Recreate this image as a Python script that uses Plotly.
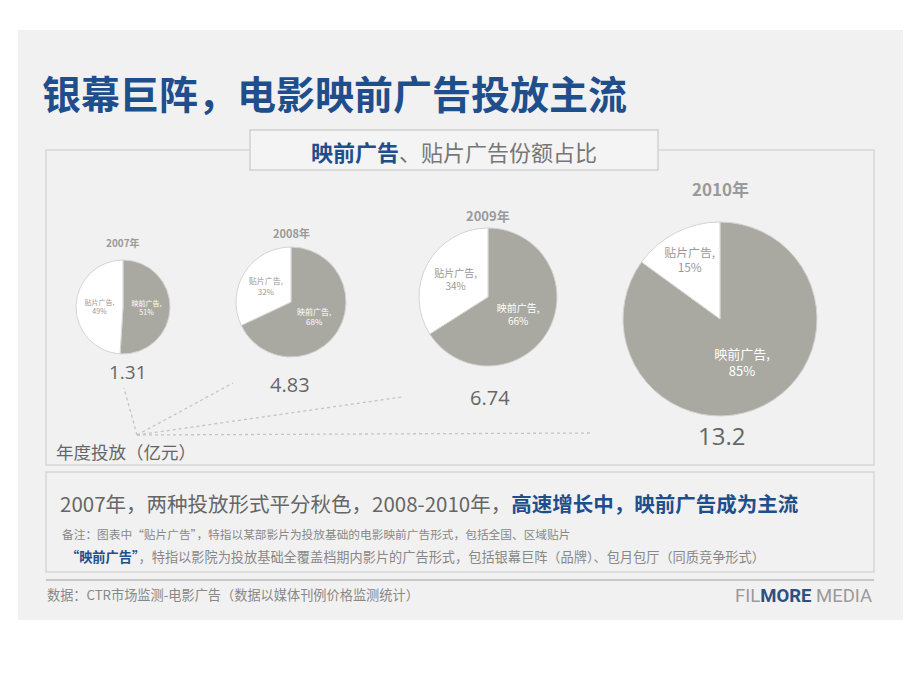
import plotly.graph_objects as go

W, H = 920, 690
OFF = 8  # page body margin offset

years = ["2007年", "2008年", "2009年", "2010年"]
labels = ["映前广告", "贴片广告"]
yingqian_pct = [51, 68, 66, 85]
tiepian_pct = [49, 32, 34, 15]
spend = ["1.31", "4.83", "6.74", "13.2"]

FONT = "Noto Sans CJK SC, Noto Sans, sans-serif"
BLUE = "#1f4e8c"
GRAY_SLICE = "#a9a9a1"
TXT = "#666666"


def X(px):
    return (px - OFF) / W


def Y(py):
    return 1 - (py - OFF) / H


# layout (pixel) of the pies
pie_cx = [123, 291, 488, 720]
pie_cy = [307, 302, 297, 319]
pie_r = [47, 55, 69, 97]
pie_txt = [7, 8, 10, 13]
title_y = [242, 233, 215, 188]
title_sz = [10, 11, 13, 17]
val_xy = [(128, 372), (290, 384), (490, 397), (721, 435)]
val_sz = [19, 20, 20, 24]
line_end = [(124, 388), (233, 383), (402, 397), (590, 433)]
vertex = (137, 435)

fig = go.Figure()

for i in range(4):
    cx, cy, r = pie_cx[i], pie_cy[i], pie_r[i]
    fig.add_trace(go.Pie(
        labels=labels,
        values=[yingqian_pct[i], tiepian_pct[i]],
        sort=False,
        direction="clockwise",
        rotation=0,
        domain=dict(x=[X(cx - r), X(cx + r)], y=[Y(cy + r), Y(cy - r)]),
        marker=dict(colors=[GRAY_SLICE, "#ffffff"], line=dict(color="#d4d4d4", width=1)),
        texttemplate="%{label},<br>%{value}%",
        textposition="inside",
        insidetextorientation="horizontal",
        insidetextfont=dict(family=FONT, size=pie_txt[i], color=["#ffffff", "#999999"]),
        hoverinfo="label+percent",
        showlegend=False,
    ))

shapes = []
# slide background
shapes.append(dict(type="rect", xref="paper", yref="paper", x0=X(18), x1=X(903), y0=Y(620), y1=Y(30),
                   fillcolor="#f1f1f1", line=dict(width=0), layer="below"))
# chart box
shapes.append(dict(type="rect", xref="paper", yref="paper", x0=X(46), x1=X(874), y0=Y(465), y1=Y(150),
                   fillcolor="rgba(0,0,0,0)", line=dict(color="#d6d6d6", width=1.5), layer="below"))
# header box
shapes.append(dict(type="rect", xref="paper", yref="paper", x0=X(250), x1=X(658), y0=Y(170), y1=Y(130),
                   fillcolor="#f4f4f4", line=dict(color="#d0d0d0", width=1.5), layer="below"))
# bottom box
shapes.append(dict(type="rect", xref="paper", yref="paper", x0=X(46), x1=X(874), y0=Y(572), y1=Y(472),
                   fillcolor="rgba(0,0,0,0)", line=dict(color="#d6d6d6", width=1.5), layer="below"))
# separator
shapes.append(dict(type="line", xref="paper", yref="paper", x0=X(46), x1=X(874), y0=Y(580), y1=Y(580),
                   line=dict(color="#c8c8c8", width=2)))
# dashed leader lines
for ex, ey in line_end:
    shapes.append(dict(type="line", xref="paper", yref="paper", x0=X(vertex[0]), y0=Y(vertex[1]),
                       x1=X(ex), y1=Y(ey), line=dict(color="#c4c4c4", width=1.3, dash="3px,3px")))

ann = []
ann.append(dict(x=X(40), y=Y(92), xanchor="left", yanchor="middle",
                text="<b>银幕巨阵，电影映前广告投放主流</b>",
                font=dict(family=FONT, size=39, color=BLUE)))
ann.append(dict(x=X(454), y=Y(151), xanchor="center", yanchor="middle",
                text=f"<b><span style='color:{BLUE}'>映前广告</span></b>、贴片广告份额占比",
                font=dict(family=FONT, size=22, color="#777777")))
for i in range(4):
    ann.append(dict(x=X(pie_cx[i]), y=Y(title_y[i]), xanchor="center", yanchor="middle",
                    text=f"<b>{years[i]}</b>",
                    font=dict(family=FONT, size=title_sz[i], color="#9a9a9a")))
    vx, vy = val_xy[i]
    ann.append(dict(x=X(vx), y=Y(vy), xanchor="center", yanchor="middle", text=spend[i],
                    font=dict(family="Open Sans, DejaVu Sans, sans-serif", size=val_sz[i], color=TXT)))
ann.append(dict(x=X(54), y=Y(451), xanchor="left", yanchor="middle", text="年度投放（亿元）",
                font=dict(family=FONT, size=17.5, color=TXT)))
ann.append(dict(x=X(58), y=Y(503), xanchor="left", yanchor="middle",
                text=f"2007年，两种投放形式平分秋色，2008-2010年，<b><span style='color:{BLUE}'>高速增长中，映前广告成为主流</span></b>",
                font=dict(family=FONT, size=20.5, color=TXT)))
ann.append(dict(x=X(60), y=Y(533), xanchor="left", yanchor="middle",
                text="备注：图表中“贴片广告”，特指以某部影片为投放基础的电影映前广告形式，包括全国、区域贴片",
                font=dict(family=FONT, size=11.7, color="#888888")))
ann.append(dict(x=X(64), y=Y(556), xanchor="left", yanchor="middle",
                text=f"<b><span style='color:{BLUE}'>“映前广告”</span></b>，特指以影院为投放基础全覆盖档期内影片的广告形式，包括银幕巨阵（品牌）、包月包厅（同质竞争形式）",
                font=dict(family=FONT, size=13.2, color="#888888")))
ann.append(dict(x=X(45), y=Y(594), xanchor="left", yanchor="middle",
                text="数据：CTR市场监测-电影广告（数据以媒体刊例价格监测统计）",
                font=dict(family=FONT, size=13.2, color="#888888")))
ann.append(dict(x=X(874), y=Y(596), xanchor="right", yanchor="middle",
                text="FIL<b><span style='color:#2f4f80'>MORE</span></b> MEDIA",
                font=dict(family="Roboto, Liberation Sans, sans-serif", size=18.5, color="#9a9a9a")))

for a in ann:
    a.update(xref="paper", yref="paper", showarrow=False)

fig.update_layout(
    width=W, height=H,
    margin=dict(l=0, r=0, t=0, b=0),
    paper_bgcolor="#ffffff",
    plot_bgcolor="#ffffff",
    shapes=shapes,
    annotations=ann,
    showlegend=False,
)

fig.write_html("out.html")
